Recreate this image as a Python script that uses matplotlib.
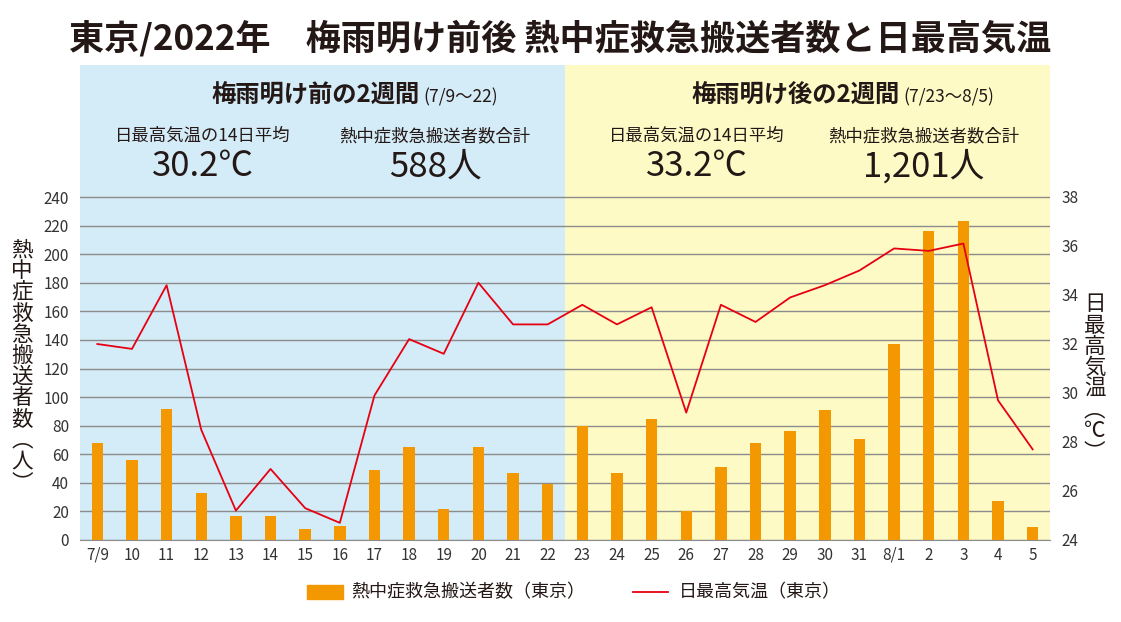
import matplotlib
matplotlib.use("Agg")
import matplotlib.pyplot as plt
import numpy as np

plt.rcParams['font.family'] = ['Noto Sans CJK JP', 'DejaVu Sans']

# data
days = ['7/9', '10', '11', '12', '13', '14', '15', '16', '17', '18', '19', '20', '21', '22',
        '23', '24', '25', '26', '27', '28', '29', '30', '31', '8/1', '2', '3', '4', '5']
patients = [68, 56, 92, 33, 17, 17, 8, 10, 49, 65, 22, 65, 47, 39,
            80, 47, 85, 20, 51, 68, 76, 91, 71, 137, 216, 223, 27, 9]
max_temp = [32.0, 31.8, 34.4, 28.5, 25.2, 26.9, 25.3, 24.7, 29.9, 32.2, 31.6, 34.5, 32.8, 32.8,
            33.6, 32.8, 33.5, 29.2, 33.6, 32.9, 33.9, 34.4, 35.0, 35.9, 35.8, 36.1, 29.7, 27.7]
left_ticks = list(range(0, 241, 20))
right_ticks = list(range(24, 39, 2))

dark = '#231815'
blue_bg = '#d4ebf8'
yellow_bg = '#fefac6'
bar_col = '#f39800'
line_col = '#e60012'

W, H = 1121, 622
fig = plt.figure(figsize=(W / 100, H / 100), dpi=100)

# plot area in pixels: x 80..1050, y 65..540 (y=0 at 540, 240 at 197)
px_l, px_r, px_t, px_b = 80, 1050, 65, 540
ax = fig.add_axes([px_l / W, (H - px_b) / H, (px_r - px_l) / W, (px_b - px_t) / H])
scale = (px_b - px_t) / (540 - 197)

x = np.arange(len(days))
ax.set_xlim(-0.5, len(days) - 0.5)
ax.set_ylim(0, 240 * scale)
ax.axvspan(-0.5, 13.5, color=blue_bg, zorder=0, lw=0)
ax.axvspan(13.5, 27.5, color=yellow_bg, zorder=0, lw=0)

ax.bar(x, patients, width=0.33, color=bar_col, zorder=3)

ax.set_yticks(left_ticks)
ax.set_xticks(x)
ax.set_xticklabels(days)
ax.yaxis.grid(True, color='#8c8c8c', lw=1.0, zorder=1)
ax.set_axisbelow(True)
ax.tick_params(length=0, labelsize=11, colors='#333333')
ax.tick_params(axis='y', pad=8)
ax.tick_params(axis='x', pad=5)
for s in ['top', 'left', 'right']:
    ax.spines[s].set_visible(False)
ax.spines['bottom'].set_color('#8c8c8c')

ax2 = ax.twinx()
ax2.set_ylim(24, 24 + 14 * scale)
ax2.plot(x, max_temp, color=line_col, lw=1.3, zorder=5)
ax2.set_yticks(right_ticks)
ax2.tick_params(length=0, labelsize=11, colors='#333333', pad=8)
for s in ax2.spines.values():
    s.set_visible(False)

# vertical axis titles
ax.text(-0.060, 0.365, '\n'.join('熱中症救急搬送者数') + '\n︵\n人\n︶',
        transform=ax.transAxes, ha='center', va='center', fontsize=15.5,
        color=dark, linespacing=0.95)
ax2.text(1.046, 0.34, '\n'.join('日最高気温') + '\n︵\n℃\n︶',
         transform=ax2.transAxes, ha='center', va='center', fontsize=15.5,
         color=dark, linespacing=0.95)

# title
fig.text(0.5, 1 - 38 / H, '東京/2022年　梅雨明け前後 熱中症救急搬送者数と日最高気温',
         ha='center', va='center', fontsize=25.3, fontweight='bold', color=dark)

# panel headers
def header(xc, y, main, sub):
    fig.text(xc / W, 1 - y / H, main, ha='right', va='center',
             fontsize=17.5, fontweight='bold', color=dark)
    fig.text((xc + 3) / W, 1 - (y + 1) / H, sub, ha='left', va='center',
             fontsize=12.5, color=dark)

header(420, 96, '梅雨明け前の2週間', '(7/9〜22)')
header(900, 96, '梅雨明け後の2週間', '(7/23〜8/5)')

def stat(xc, label, value):
    fig.text(xc / W, 1 - 136 / H, label, ha='center', va='center',
             fontsize=12.5, color=dark)
    fig.text(xc / W, 1 - 167 / H, value, ha='center', va='center',
             fontsize=25, color=dark)

stat(203, '日最高気温の14日平均', '30.2℃')
stat(435, '熱中症救急搬送者数合計', '588人')
stat(697, '日最高気温の14日平均', '33.2℃')
stat(924, '熱中症救急搬送者数合計', '1,201人')

# legend
fig.patches.append(plt.Rectangle((307 / W, 1 - 599 / H), 36 / W, 14 / H,
                                 transform=fig.transFigure, color=bar_col))
fig.text(351 / W, 1 - 592 / H, '熱中症救急搬送者数（東京）', ha='left', va='center',
         fontsize=13, color=dark)
fig.lines.append(plt.Line2D([633 / W, 668 / W], [1 - 592 / H, 1 - 592 / H],
                            transform=fig.transFigure, color=line_col, lw=1.3))
fig.text(679 / W, 1 - 592 / H, '日最高気温（東京）', ha='left', va='center',
         fontsize=13, color=dark)

fig.savefig('out.png', dpi=100, facecolor='white')
